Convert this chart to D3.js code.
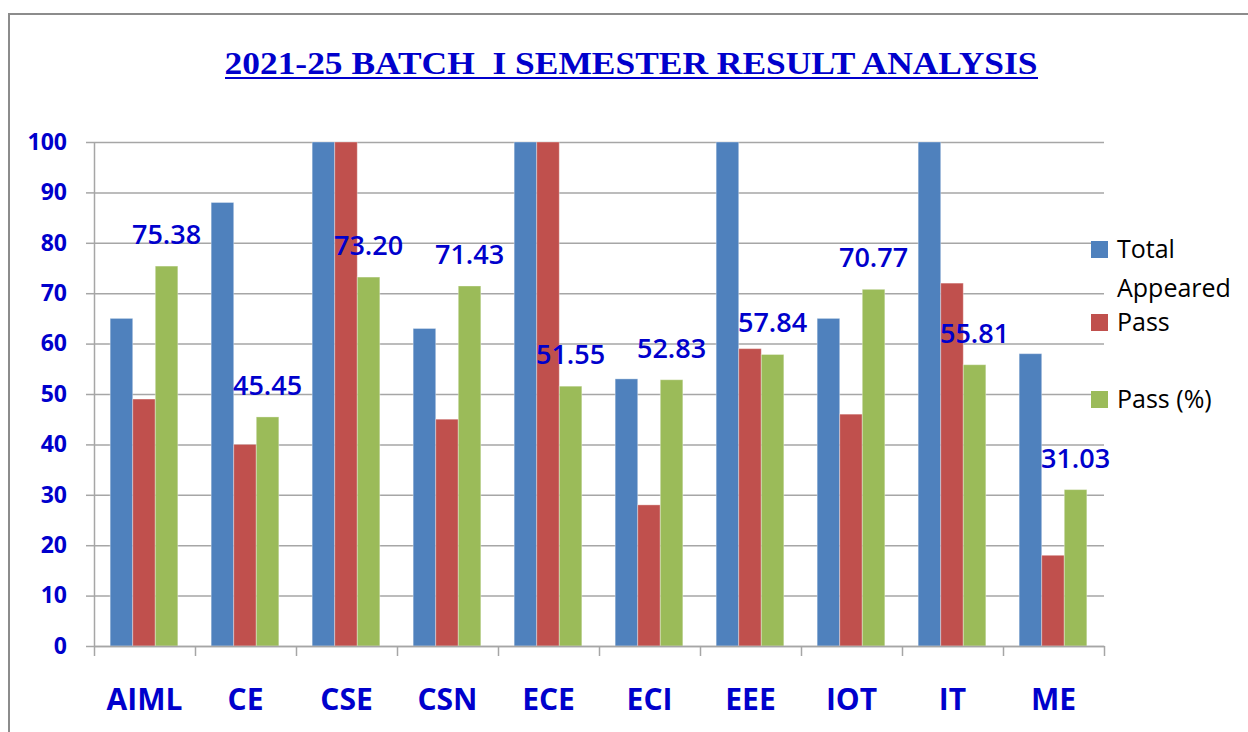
<!DOCTYPE html>
<html>
<head>
<meta charset="utf-8">
<script src="https://cdn.jsdelivr.net/npm/d3@7"></script>
<style>
  body { margin: 0; background: #fff; }
  svg { display: block; }
</style>
</head>
<body>
<script>
const categories = ["AIML", "CE", "CSE", "CSN", "ECE", "ECI", "EEE", "IOT", "IT", "ME"];
const seriesNames = ["Total Appeared", "Pass", "Pass (%)"];
const totalAppeared = [65, 88, 153, 63, 194, 53, 102, 65, 129, 58];
const pass = [49, 40, 112, 45, 100, 28, 59, 46, 72, 18];
const passPct = [75.38, 45.45, 73.2, 71.43, 51.55, 52.83, 57.84, 70.77, 55.81, 31.03];
const yTicks = [0, 10, 20, 30, 40, 50, 60, 70, 80, 90, 100];
const colors = ["#4F81BD", "#C0504D", "#9BBB59"];

const w = 1248;
const h = 732;
const plotLeft = 94, plotRight = 1104, plotTop = 142, plotBottom = 646;
const blue = "#0000CC";

const svg = d3.select("body").append("svg").attr("width", w).attr("height", h);

// frame
svg.append("rect")
  .attr("x", 9).attr("y", 14)
  .attr("width", w + 20).attr("height", h + 20)
  .attr("fill", "none").attr("stroke", "#8c8c8c").attr("stroke-width", 2);

// title
svg.append("text")
  .attr("x", 631).attr("y", 74)
  .attr("text-anchor", "middle")
  .attr("font-family", "Liberation Serif, serif")
  .attr("font-weight", "bold")
  .attr("font-size", 32)
  .attr("fill", blue)
  .attr("textLength", 813)
  .attr("lengthAdjust", "spacingAndGlyphs")
  .style("white-space", "pre")
  .text("2021-25 BATCH  I SEMESTER RESULT ANALYSIS");
svg.append("line")
  .attr("x1", 225).attr("x2", 1038)
  .attr("y1", 78).attr("y2", 78)
  .attr("stroke", blue).attr("stroke-width", 2);

const yScale = d3.scaleLinear().domain([0, 100]).range([plotBottom, plotTop]).clamp(true);
const xScale = d3.scaleBand().domain(categories).range([plotLeft, plotRight]);
const x1 = d3.scaleBand().domain(seriesNames)
  .range([xScale.bandwidth() * 0.16, xScale.bandwidth() * 0.83]);

// gridlines
svg.append("g")
  .attr("transform", "translate(" + plotLeft + ",0)")
  .call(d3.axisLeft(yScale).tickValues(yTicks).tickSize(-(plotRight - plotLeft)).tickFormat(""))
  .call((g) => g.select(".domain").remove())
  .call((g) => g.selectAll("line").attr("stroke", "#a6a6a6").attr("stroke-width", 1.5));

// y axis
svg.append("g")
  .attr("transform", "translate(" + plotLeft + ",0)")
  .call(d3.axisLeft(yScale).tickValues(yTicks).tickSizeInner(8).tickSizeOuter(0).tickPadding(19))
  .call((g) => g.select(".domain").attr("stroke", "#a6a6a6").attr("stroke-width", 1.5))
  .call((g) => g.selectAll("line").attr("stroke", "#a6a6a6").attr("stroke-width", 1.5))
  .call((g) => g.selectAll("text")
    .attr("fill", blue)
    .attr("font-family", "Open Sans, sans-serif")
    .attr("font-weight", "bold")
    .attr("font-size", 23));

// bars
const rows = categories.map((c, i) => ({
  cat: c,
  vals: [totalAppeared[i], pass[i], passPct[i]]
}));

const groups = svg.append("g").selectAll("g")
  .data(rows)
  .enter()
  .append("g")
  .attr("transform", (d) => "translate(" + xScale(d.cat) + ",0)");

groups.selectAll("rect")
  .data((d) => d.vals.map((v, k) => ({ name: seriesNames[k], v: v, k: k })))
  .enter()
  .append("rect")
  .attr("x", (d) => x1(d.name))
  .attr("width", x1.bandwidth())
  .attr("y", (d) => yScale(d.v))
  .attr("height", (d) => plotBottom - yScale(d.v))
  .attr("fill", (d) => colors[d.k])
  .attr("stroke", "rgba(255,255,255,0.35)")
  .attr("stroke-width", 1);

// x axis: boundary ticks
const xb = d3.scaleLinear().domain([0, categories.length]).range([plotLeft, plotRight]);
svg.append("g")
  .attr("transform", "translate(0," + plotBottom + ")")
  .call(d3.axisBottom(xb).ticks(categories.length).tickSizeInner(10).tickSizeOuter(0).tickFormat(""))
  .call((g) => g.select(".domain").attr("stroke", "#a6a6a6").attr("stroke-width", 1.5))
  .call((g) => g.selectAll("line").attr("stroke", "#a6a6a6").attr("stroke-width", 1.5));

// category labels
svg.append("g")
  .attr("transform", "translate(0," + plotBottom + ")")
  .call(d3.axisBottom(xScale).tickSize(0).tickPadding(43))
  .call((g) => g.select(".domain").remove())
  .call((g) => g.selectAll("text")
    .attr("fill", blue)
    .attr("font-family", "Open Sans, sans-serif")
    .attr("font-weight", "bold")
    .attr("font-size", 30));

// pass % labels
groups.append("text")
  .attr("x", (d) => x1("Pass (%)") + x1.bandwidth() / 2)
  .attr("y", (d) => yScale(d.vals[2]) - 22)
  .attr("text-anchor", "middle")
  .attr("fill", blue)
  .attr("font-family", "Open Sans, sans-serif")
  .attr("font-weight", 600)
  .attr("font-size", 27)
  .text((d) => d.vals[2].toFixed(2));

// legend
const legendItems = [
  { lines: ["Total", "Appeared"], y: 241 },
  { lines: ["Pass"], y: 314 },
  { lines: ["Pass (%)"], y: 391 }
];
const legend = svg.append("g");
legendItems.forEach((item, i) => {
  legend.append("rect")
    .attr("x", 1091).attr("y", item.y)
    .attr("width", 17).attr("height", 17)
    .attr("fill", colors[i]);
  item.lines.forEach((t, j) => {
    legend.append("text")
      .attr("x", 1117)
      .attr("y", item.y + 17 + j * 39)
      .attr("font-family", "Open Sans, sans-serif")
      .attr("font-weight", 500)
      .attr("font-size", 25)
      .attr("fill", "#000")
      .text(t);
  });
});
</script>
</body>
</html>
